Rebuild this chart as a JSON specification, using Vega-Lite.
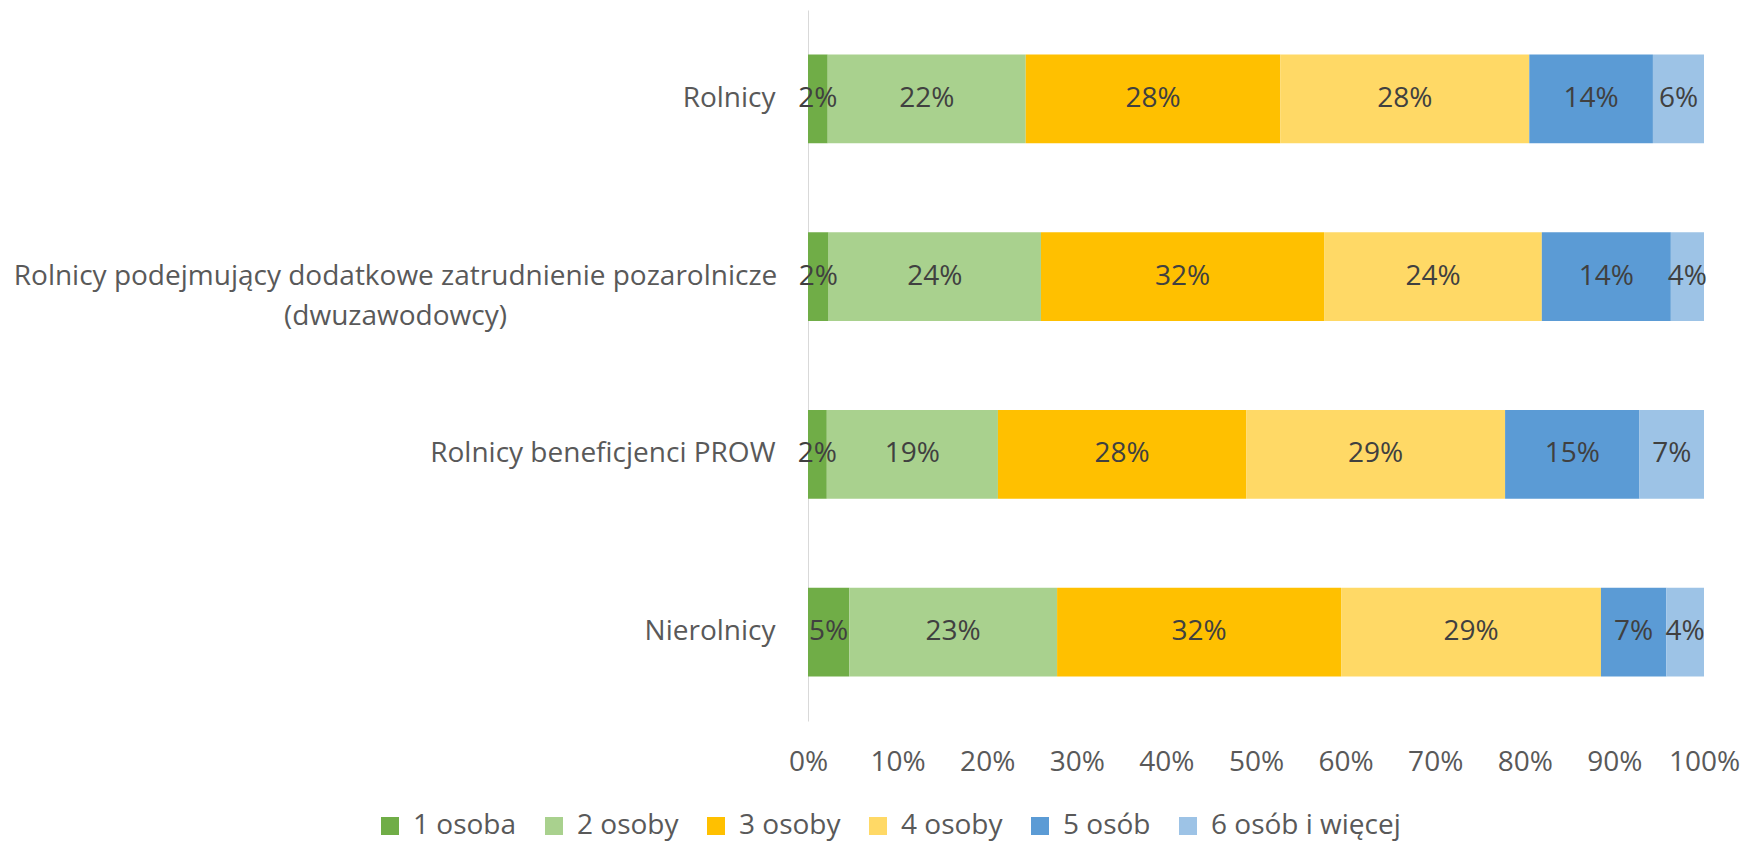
{
  "$schema": "https://vega.github.io/schema/vega-lite/v6.json",
  "width": 896,
  "height": 711,
  "autosize": {"type": "none"},
  "padding": {"left": 808, "top": 10, "right": 39, "bottom": 121},
  "background": "white",
  "config": {"view": {"stroke": null}, "font": "Open Sans, sans-serif"},
  "data": {"values": [
    {"grupa": "Rolnicy", "kat": "1 osoba", "ord": 1, "pct": 2.2},
    {"grupa": "Rolnicy", "kat": "2 osoby", "ord": 2, "pct": 22.1},
    {"grupa": "Rolnicy", "kat": "3 osoby", "ord": 3, "pct": 28.4},
    {"grupa": "Rolnicy", "kat": "4 osoby", "ord": 4, "pct": 27.8},
    {"grupa": "Rolnicy", "kat": "5 osób", "ord": 5, "pct": 13.8},
    {"grupa": "Rolnicy", "kat": "6 osób i więcej", "ord": 6, "pct": 5.7},
    {"grupa": "Rolnicy podejmujący dodatkowe zatrudnienie pozarolnicze (dwuzawodowcy)", "kat": "1 osoba", "ord": 1, "pct": 2.3},
    {"grupa": "Rolnicy podejmujący dodatkowe zatrudnienie pozarolnicze (dwuzawodowcy)", "kat": "2 osoby", "ord": 2, "pct": 23.7},
    {"grupa": "Rolnicy podejmujący dodatkowe zatrudnienie pozarolnicze (dwuzawodowcy)", "kat": "3 osoby", "ord": 3, "pct": 31.6},
    {"grupa": "Rolnicy podejmujący dodatkowe zatrudnienie pozarolnicze (dwuzawodowcy)", "kat": "4 osoby", "ord": 4, "pct": 24.3},
    {"grupa": "Rolnicy podejmujący dodatkowe zatrudnienie pozarolnicze (dwuzawodowcy)", "kat": "5 osób", "ord": 5, "pct": 14.4},
    {"grupa": "Rolnicy podejmujący dodatkowe zatrudnienie pozarolnicze (dwuzawodowcy)", "kat": "6 osób i więcej", "ord": 6, "pct": 3.7},
    {"grupa": "Rolnicy beneficjenci PROW", "kat": "1 osoba", "ord": 1, "pct": 2.1},
    {"grupa": "Rolnicy beneficjenci PROW", "kat": "2 osoby", "ord": 2, "pct": 19.1},
    {"grupa": "Rolnicy beneficjenci PROW", "kat": "3 osoby", "ord": 3, "pct": 27.7},
    {"grupa": "Rolnicy beneficjenci PROW", "kat": "4 osoby", "ord": 4, "pct": 28.9},
    {"grupa": "Rolnicy beneficjenci PROW", "kat": "5 osób", "ord": 5, "pct": 15.0},
    {"grupa": "Rolnicy beneficjenci PROW", "kat": "6 osób i więcej", "ord": 6, "pct": 7.2},
    {"grupa": "Nierolnicy", "kat": "1 osoba", "ord": 1, "pct": 4.6},
    {"grupa": "Nierolnicy", "kat": "2 osoby", "ord": 2, "pct": 23.2},
    {"grupa": "Nierolnicy", "kat": "3 osoby", "ord": 3, "pct": 31.7},
    {"grupa": "Nierolnicy", "kat": "4 osoby", "ord": 4, "pct": 29.0},
    {"grupa": "Nierolnicy", "kat": "5 osób", "ord": 5, "pct": 7.3},
    {"grupa": "Nierolnicy", "kat": "6 osób i więcej", "ord": 6, "pct": 4.2}
  ]},
  "transform": [
    {"stack": "pct", "groupby": ["grupa"], "sort": [{"field": "ord", "order": "ascending"}], "as": ["p0", "p1"]},
    {"calculate": "(datum.p0 + datum.p1) / 2", "as": "pm"},
    {"calculate": "format(datum.pct / 100, '.0%')", "as": "lab"}
  ],
  "encoding": {
    "y": {
      "field": "grupa",
      "type": "nominal",
      "sort": ["Rolnicy", "Rolnicy podejmujący dodatkowe zatrudnienie pozarolnicze (dwuzawodowcy)", "Rolnicy beneficjenci PROW", "Nierolnicy"],
      "scale": {"paddingInner": 0.5, "paddingOuter": 0.25},
      "axis": {
        "title": null,
        "ticks": false,
        "tickSize": 0,
        "domain": true,
        "domainColor": "#D9D9D9",
        "domainWidth": 1,
        "labelFontSize": 28,
        "labelColor": "#595959",
        "labelAlign": {"condition": {"test": "indexof(datum.value, ' (') > 0", "value": "center"}, "value": "right"},
        "labelPadding": {"condition": {"test": "indexof(datum.value, ' (') > 0", "value": 413}, "value": 33},
        "labelLimit": 1000,
        "labelLineHeight": 40,
        "labelExpr": "indexof(datum.label, ' (') > 0 ? [substring(datum.label, 0, indexof(datum.label, ' (')), substring(datum.label, indexof(datum.label, ' (') + 1)] : datum.label"
      }
    }
  },
  "layer": [
    {
      "mark": {"type": "bar"},
      "encoding": {
        "x": {
          "field": "p0",
          "type": "quantitative",
          "scale": {"domain": [0, 100], "nice": false},
          "axis": {
            "title": null,
            "values": [0, 10, 20, 30, 40, 50, 60, 70, 80, 90, 100],
            "labelExpr": "datum.value + '%'",
            "domain": false,
            "ticks": false,
            "tickSize": 0,
            "grid": false,
            "labelFontSize": 28,
            "labelColor": "#595959",
            "labelPadding": 27,
            "labelFlush": false
          }
        },
        "x2": {"field": "p1"},
        "color": {
          "field": "kat",
          "type": "nominal",
          "sort": ["1 osoba", "2 osoby", "3 osoby", "4 osoby", "5 osób", "6 osób i więcej"],
          "scale": {
            "domain": ["1 osoba", "2 osoby", "3 osoby", "4 osoby", "5 osób", "6 osób i więcej"],
            "range": ["#70AD47", "#A9D18E", "#FFC000", "#FFD966", "#5B9BD5", "#9DC3E6"]
          },
          "legend": {
            "title": null,
            "orient": "none",
            "direction": "horizontal",
            "legendX": -432,
            "legendY": 802,
            "symbolType": "square",
            "symbolSize": 324,
            "symbolStrokeWidth": 0,
            "labelFontSize": 28,
            "labelColor": "#595959",
            "labelOffset": 9,
            "columnPadding": 23,
            "labelLimit": 400
          }
        }
      }
    },
    {
      "mark": {"type": "text", "fontSize": 28, "color": "#404040", "align": "center", "baseline": "middle"},
      "encoding": {
        "x": {"field": "pm", "type": "quantitative"},
        "text": {"field": "lab", "type": "nominal"}
      }
    }
  ]
}
